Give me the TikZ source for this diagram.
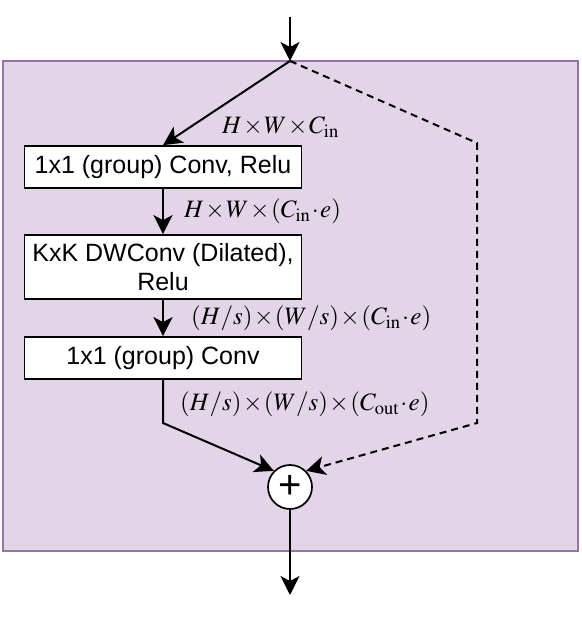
\documentclass[tikz,border=0pt]{standalone}
\usepackage{mathptmx}
\usepackage[no-math]{fontspec}
\setmainfont{Liberation Sans}
\usetikzlibrary{arrows.meta, calc}

\definecolor{panelfill}{HTML}{E1D5E7}
\definecolor{panelline}{HTML}{9673A6}

\tikzset{
  layer/.style={draw, line width=1.7pt, fill=white, minimum width=277pt, inner sep=0pt, align=center},
  flow/.style={line width=2pt, -{Stealth[length=19pt, width=19pt, inset=5pt]}},
  shortcut/.style={flow, dash pattern=on 7pt off 5pt},
  dimlabel/.style={anchor=west, inner sep=0pt}
}

\begin{document}
\begin{tikzpicture}[x=1pt, y=-1pt, font=\fontsize{25}{29}\selectfont]
  \useasboundingbox (0,0) rectangle (581,617);
  \medmuskip=1mu

  % Background panel of the block
  \draw[fill=panelfill, draw=panelline, line width=2pt] (3,61) rectangle (578,551);

  % Define coordinates for the input, the split and the bends
  \coordinate (input) at (290,17);
  \coordinate (split) at (290,61);
  \coordinate (skipTop) at (477,143);
  \coordinate (skipBot) at (477,423);
  \coordinate (mainBend) at (163,423);
  \coordinate (output) at (290,595);

  % The three layers and the sum
  \node[layer, minimum height=42pt] (conv1) at (163,167) {1x1 (group) Conv, Relu};
  \node[layer, minimum height=64pt] (dwconv) at (163,267) {KxK DWConv (Dilated),\\Relu};
  \node[layer, minimum height=42pt] (conv2) at (163,358) {1x1 (group) Conv};
  \node[draw, fill=white, circle, line width=1.7pt, minimum size=44pt, inner sep=0pt,
        font=\fontsize{40}{40}\selectfont] (sum) at (290,487) {+};

  % Draw the main path
  \draw[flow] (input) -- (split);
  \draw[flow] (split) -- (conv1.north);
  \draw[flow] (conv1) -- (dwconv);
  \draw[flow] (dwconv) -- (conv2);
  \draw[flow] (conv2) -- (mainBend) -- (sum.135);
  \draw[flow] (sum) -- (output);

  % Draw the shortcut
  \draw[shortcut] (split) -- (skipTop) -- (skipBot) -- (sum.45);

  % Tensor sizes
  \node[dimlabel] (dim1) at (222,127) {$H\times W\times C_{\mathrm{in}}$};
  \node[dimlabel] (dim2) at (184,211) {$H\times W\times (C_{\mathrm{in}}\cdot e)$};
  \node[dimlabel] (dim3) at (191,318) {$(H/s)\times (W/s)\times (C_{\mathrm{in}}\cdot e)$};
  \node[dimlabel] (dim4) at (180,404) {$(H/s)\times (W/s)\times (C_{\mathrm{out}}\cdot e)$};

\end{tikzpicture}
\end{document}
